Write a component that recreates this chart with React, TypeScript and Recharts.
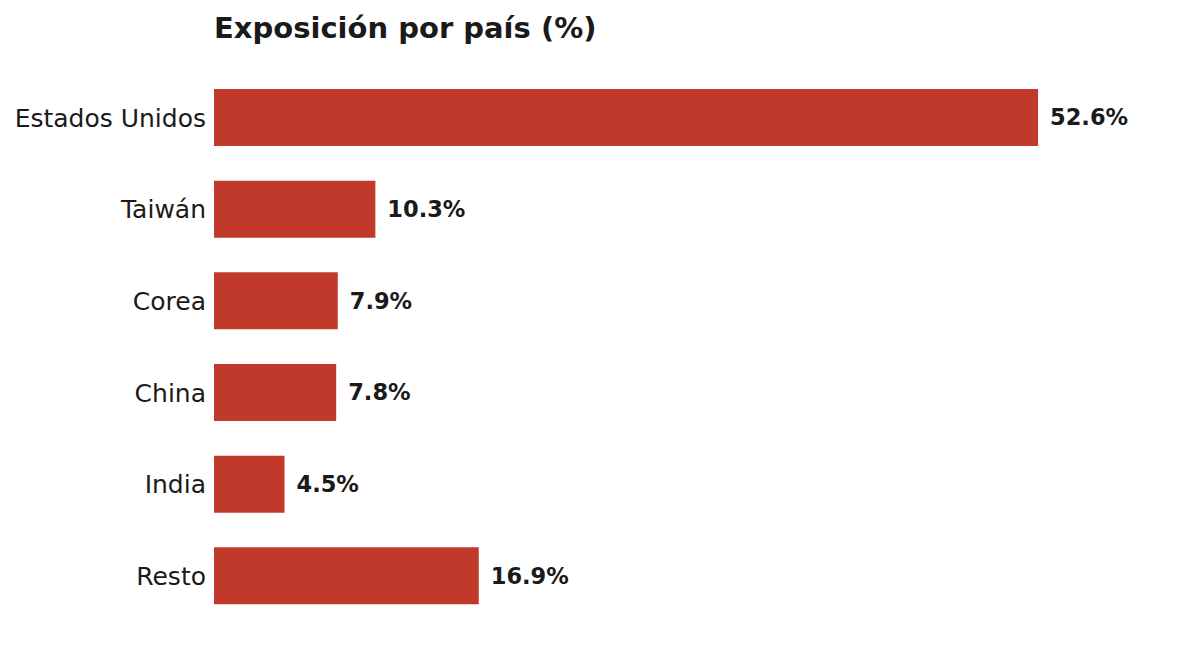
import React from 'react';
import { BarChart, Bar, XAxis, YAxis, LabelList } from 'recharts';

const countries = ['Estados Unidos', 'Taiwán', 'Corea', 'China', 'India', 'Resto'];
const exposure = [52.6, 10.3, 7.9, 7.8, 4.5, 16.9];

const data = countries.map((name, i) => ({ name, value: exposure[i] }));

const FONT = '"DejaVu Sans", sans-serif';
const TEXT = '#1a1a1a';

const App: React.FC = () => {
  return (
    <div style={{ position: 'absolute', left: 0, top: 0, width: 1185, height: 645, background: '#fff' }}>
      <svg width={1185} height={60} style={{ position: 'absolute', left: 0, top: 0 }}>
        <text x={214} y={38} fontFamily={FONT} fontSize={29} fontWeight="bold" fill={TEXT}>
          Exposición por país (%)
        </text>
      </svg>
      <BarChart
        width={1185}
        height={645}
        data={data}
        layout="vertical"
        margin={{ top: 72, right: 31, bottom: 23, left: 0 }}
      >
        <XAxis type="number" domain={[0, 60]} hide />
        <YAxis
          type="category"
          dataKey="name"
          width={214}
          axisLine={false}
          tickLine={false}
          tick={{ fontSize: 25, fill: TEXT, fontFamily: FONT }}
        />
        <Bar dataKey="value" fill="#c0392b" barSize={57} isAnimationActive={false}>
          <LabelList
            dataKey="value"
            position="right"
            offset={12}
            formatter={(v: number) => `${v.toFixed(1)}%`}
            style={{ fontSize: 22.5, fontWeight: 'bold', fill: TEXT, fontFamily: FONT }}
          />
        </Bar>
      </BarChart>
    </div>
  );
};

export default App;
